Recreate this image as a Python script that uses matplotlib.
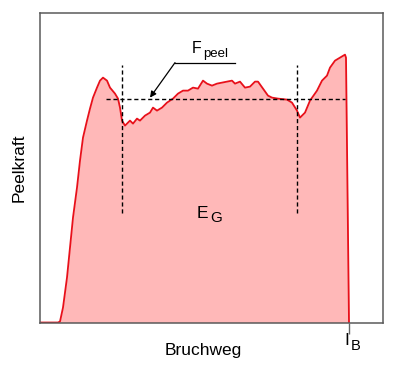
import matplotlib.pyplot as plt
import numpy as np

plt.rcParams['font.family'] = ['Liberation Sans', 'DejaVu Sans']

weg = [0, 18, 20, 23, 27, 30, 33, 37, 40, 43, 47, 50, 53, 57, 60, 63, 67,
       70, 75, 78, 80, 82, 85, 90, 93, 97, 100, 105, 110, 113, 117, 122,
       127, 133, 138, 143, 148, 153, 158, 163, 167, 172, 177, 182, 187, 192,
       195, 200, 205, 210, 215, 218, 223, 228, 232, 238, 247, 252, 257, 260,
       265, 270, 277, 282, 287, 290, 295, 300, 305, 306, 309]
kraft = [0, 0, 1, 15, 45, 75, 105, 135, 162, 185, 202, 214, 225, 235, 242,
         245, 242, 235, 229, 224, 215, 202, 197, 202, 199, 204, 202, 207, 210,
         215, 212, 215, 220, 224, 229, 232, 232, 235, 234, 242, 239, 237, 239,
         240, 241, 242, 239, 241, 235, 236, 241, 241, 234, 227, 225, 224, 223,
         220, 212, 205, 210, 222, 232, 242, 247, 255, 262, 265, 268, 265, 0]

f_peel = 224        # Niveau der gestrichelten Linie
bereich = [82, 257]  # Auswertebereich
l_b = 309

fig = plt.figure(figsize=(4, 3.68), dpi=100)
ax = fig.add_axes([0.1, 0.1236, 0.8575, 0.842])

ax.fill_between(weg, kraft, color='#ffb8b8', lw=0)
ax.plot(weg, kraft, color='#e8101a', lw=1.3)

ax.plot([66, 305], [f_peel, f_peel], color='black', lw=1, ls=(0, (3, 2)))
for b in bereich:
    ax.plot([b, b], [110, 258], color='black', lw=1, ls=(0, (3, 2)))

# Beschriftung F_peel mit Hinweislinie
ax.plot([135, 195], [260, 260], color='black', lw=0.9)
ax.annotate('', xy=(110, 225), xytext=(135, 260),
            arrowprops=dict(arrowstyle='-|>', color='black', lw=0.9,
                            mutation_scale=9, shrinkA=0, shrinkB=0))
ax.text(152, 270, 'F', fontsize=11.5, ha='left', va='baseline')
ax.text(163.5, 265.5, 'peel', fontsize=9.5, ha='left', va='baseline')

ax.text(157, 105, 'E', fontsize=12.5, ha='left', va='baseline')
ax.text(170, 101, 'G', fontsize=11, ha='left', va='baseline')

ax.set_xlim(0, 343)
ax.set_ylim(0, 310)
ax.set_xticks([l_b])
ax.set_xticklabels([''])
ax.set_yticks([])
ax.tick_params(axis='x', direction='out', length=8, width=1, color='#666666')
for s in ax.spines.values():
    s.set_color('#5a5a5a')
    s.set_linewidth(1.1)

ax.text(304, -22, 'I', fontsize=12.5, ha='left', va='baseline', clip_on=False)
ax.text(311, -27, 'B', fontsize=10.5, ha='left', va='baseline', clip_on=False)

fig.text(203 / 400, 1 - 351 / 368, 'Bruchweg', fontsize=12.5, ha='center', va='center')
fig.text(19 / 400, 1 - 168 / 368, 'Peelkraft', fontsize=12.5, ha='center', va='center',
         rotation=90)

fig.savefig('out.png', dpi=100)
